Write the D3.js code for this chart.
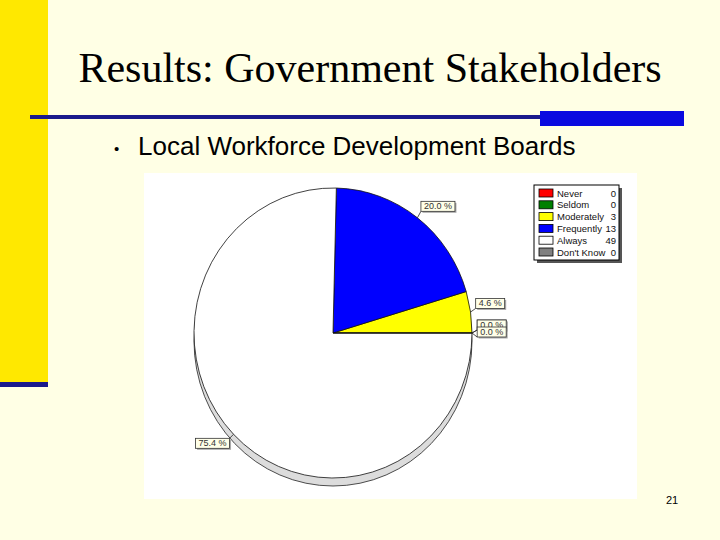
<!DOCTYPE html>
<html>
<head>
<meta charset="utf-8">
<script src="https://cdn.jsdelivr.net/npm/d3@7"></script>
<style>
  body { margin: 0; background: #ffffe5; }
  text { font-family: "Liberation Sans", Arial, sans-serif; }
</style>
</head>
<body>
<div id="chart"></div>
<script>
// data
var categories = ["Never", "Seldom", "Moderately", "Frequently", "Always", "Don't Know"];
var counts = [0, 0, 3, 13, 49, 0];
var colors = ["#ff0000", "#008000", "#ffff00", "#0000ff", "#ffffff", "#808080"];
var titleText = "Results: Government Stakeholders";
var bulletText = "Local Workforce Development Boards";
var pageNumber = "21";

var svg = d3.select("#chart")
      .append("svg")
      .attr("width", 720)
      .attr("height", 540);

// slide decoration
svg.append("rect").attr("x", 0).attr("y", 0).attr("width", 720).attr("height", 540).attr("fill", "#ffffe5");
svg.append("rect").attr("x", 0).attr("y", 0).attr("width", 48).attr("height", 382).attr("fill", "#ffe800");
svg.append("rect").attr("x", 0).attr("y", 382).attr("width", 48).attr("height", 5).attr("fill", "#1a1a8c");
svg.append("rect").attr("x", 30).attr("y", 115).attr("width", 512).attr("height", 4).attr("fill", "#1a1a8c");
svg.append("rect").attr("x", 540).attr("y", 111).attr("width", 144).attr("height", 15).attr("fill", "#0a0ae0");

svg.append("text")
      .attr("x", 370)
      .attr("y", 82)
      .attr("text-anchor", "middle")
      .style("font-family", "'Liberation Serif', 'Times New Roman', serif")
      .style("font-size", "42px")
      .attr("fill", "#000")
      .text(titleText);

svg.append("text")
      .attr("x", 114)
      .attr("y", 154)
      .style("font-size", "15px")
      .text("\u2022");

svg.append("text")
      .attr("x", 138)
      .attr("y", 155)
      .style("font-size", "26px")
      .attr("fill", "#000")
      .text(bulletText);

svg.append("text")
      .attr("x", 672)
      .attr("y", 504)
      .attr("text-anchor", "middle")
      .style("font-size", "11px")
      .text(pageNumber);

// chart picture area
svg.append("rect").attr("x", 144).attr("y", 173).attr("width", 493).attr("height", 326).attr("fill", "#fff");

var cx = 333, cy = 333, r = 139, ry = 145, depth = 8;
var total = d3.sum(counts);
var fmt = d3.format(".1f");

var pie = d3.pie()
      .sort(null)
      .value(function(d){ return d; })
      .startAngle(Math.PI / 2)
      .endAngle(Math.PI / 2 - 2 * Math.PI);
var arcs = pie(counts);
var arc = d3.arc().innerRadius(0).outerRadius(r);

var pieGroup = svg.append("g").attr("class", "pie");

// 3d rim under the face
pieGroup.append("ellipse")
      .attr("cx", cx)
      .attr("cy", cy + depth)
      .attr("rx", r)
      .attr("ry", ry)
      .attr("fill", "#dcdcdc")
      .attr("stroke", "#222")
      .attr("stroke-width", 0.8);

pieGroup.append("g")
      .attr("transform", "translate(" + cx + "," + cy + ") scale(1," + (ry / r) + ")")
      .selectAll("path")
      .data(arcs)
      .enter()
      .append("path")
      .attr("d", arc)
      .attr("fill", function(d, i){ return colors[i]; })
      .attr("stroke", "#111")
      .attr("stroke-width", 0.8)
      .attr("vector-effect", "non-scaling-stroke");

// percent labels
var labelGroup = svg.append("g").attr("class", "labels");
var boxes = [];
arcs.forEach(function(d, i){
  var mid = (d.startAngle + d.endAngle) / 2;
  var s = Math.sin(mid), c = Math.cos(mid);
  var ex = cx + r * s, ey = cy - ry * c;
  var px = cx + r * 1.03 * s, py = cy - ry * 1.03 * c;
  var label = fmt(d.value / total * 100) + " %";
  var t = labelGroup.append("text").style("font-size", "9px").text(label);
  var w = t.node().getComputedTextLength() + 6, h = 10;
  t.remove();
  var right = s > -1e-6;
  var upper = c > -1e-6;
  var bx = right ? px + 1 : px - 1 - w;
  var by = upper ? py - 3 - h : py + 1;
  var prev = boxes[boxes.length - 1];
  var shifted = false;
  if (prev && !prev.shifted && prev.i == i - 1 &&
      bx < prev.x + prev.w && bx + w > prev.x && by < prev.y + prev.h && by + h > prev.y) {
    by = prev.y + 7;
    shifted = true;
  }
  boxes.push({x: bx, y: by, w: w, h: h, i: i, ex: ex, ey: ey, label: label, right: right, upper: upper, shifted: shifted});
});

// shifted labels sit on top of the ones they overlap
boxes.sort(function(a, b){ return (a.shifted ? 1 : 0) - (b.shifted ? 1 : 0); });

boxes.forEach(function(b){
  var g = labelGroup.append("g");
  var lx = b.right ? b.x : b.x + b.w;
  var ly = (b.upper || b.shifted) ? b.y + b.h : b.y;
  g.append("line")
        .attr("x1", b.ex).attr("y1", b.ey)
        .attr("x2", lx).attr("y2", ly)
        .attr("stroke", "#222")
        .attr("stroke-width", 0.8);
  g.append("rect")
        .attr("x", b.x + 1.5).attr("y", b.y + 1.5)
        .attr("width", b.w).attr("height", b.h)
        .attr("fill", "#aaa");
  g.append("rect")
        .attr("x", b.x).attr("y", b.y)
        .attr("width", b.w).attr("height", b.h)
        .attr("fill", "#ffffe8")
        .attr("stroke", "#333")
        .attr("stroke-width", 0.8);
  g.append("text")
        .attr("x", b.x + b.w / 2)
        .attr("y", b.y + b.h - 2)
        .attr("text-anchor", "middle")
        .style("font-size", "9px")
        .attr("fill", "#333")
        .text(b.label);
});

// legend
var legend = svg.append("g").attr("class", "legend");
legend.append("rect").attr("x", 537).attr("y", 188).attr("width", 85).attr("height", 75).attr("fill", "#555");
legend.append("rect").attr("x", 534).attr("y", 185).attr("width", 85).attr("height", 75)
      .attr("fill", "#fff").attr("stroke", "#000").attr("stroke-width", 1);

var rowY = d3.scalePoint().domain(categories).range([193, 252]);

var rows = legend.selectAll("g.row")
      .data(categories)
      .enter()
      .append("g")
      .attr("class", "row")
      .attr("transform", function(d){ return "translate(0," + rowY(d) + ")"; });

rows.append("rect")
      .attr("x", 539).attr("y", -4)
      .attr("width", 14).attr("height", 8)
      .attr("fill", function(d, i){ return colors[i]; })
      .attr("stroke", "#000")
      .attr("stroke-width", 0.8);

rows.append("text")
      .attr("x", 557).attr("y", 3.5)
      .style("font-size", "9.5px")
      .attr("fill", "#111")
      .text(function(d){ return d; });

rows.append("text")
      .attr("x", 616).attr("y", 3.5)
      .attr("text-anchor", "end")
      .style("font-size", "9.5px")
      .attr("fill", "#111")
      .text(function(d, i){ return counts[i]; });
</script>
</body>
</html>
